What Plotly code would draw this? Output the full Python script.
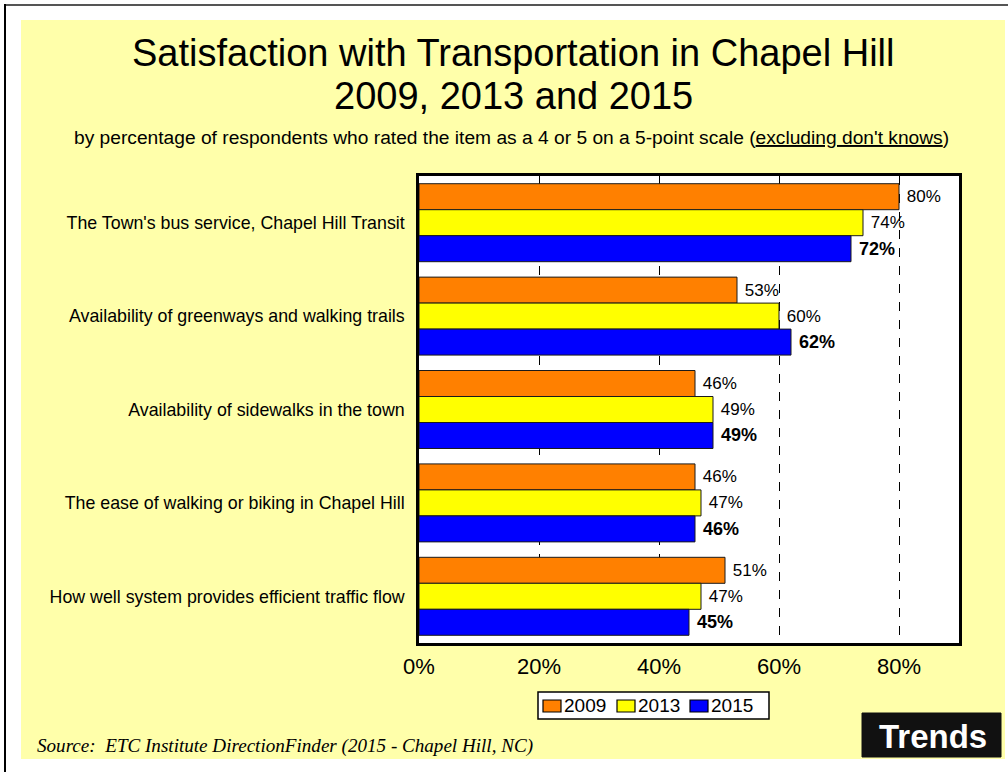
import plotly.graph_objects as go

# Survey items (top to bottom) and share of respondents rating 4 or 5
categories = [
    "The Town's bus service, Chapel Hill Transit",
    "Availability of greenways and walking trails",
    "Availability of sidewalks in the town",
    "The ease of walking or biking in Chapel Hill",
    "How well system provides efficient traffic flow",
]
years = ["2009", "2013", "2015"]
v2009 = [80, 53, 46, 46, 51]
v2013 = [74, 60, 49, 47, 47]
v2015 = [72, 62, 49, 46, 45]
x_ticks = [0, 20, 40, 60, 80]
x_tick_labels = ["0%", "20%", "40%", "60%", "80%"]

series = [v2009, v2013, v2015]
colors = ["#FF8000", "#FFFF00", "#0000FF"]
weights = ["normal", "normal", "bold"]
label_sizes = [17, 17, 18]

W, H = 1008, 772
L, R, T, B = 419, 959, 176, 643
FONT = "Liberation Sans, Arial, sans-serif"


def px(xp):
    return (xp - L) / (R - L)


def py(yp):
    return (B - yp) / (B - T)


fig = go.Figure()
for name, vals, col, wt, fs in zip(years, series, colors, weights, label_sizes):
    fig.add_trace(go.Bar(
        name=name,
        y=categories,
        x=vals,
        orientation="h",
        marker=dict(color=col, line=dict(color="#1a1a1a", width=1)),
        texttemplate="\u00a0%{x:.0f}%",
        textposition="outside",
        textangle=0,
        constraintext="none",
        cliponaxis=False,
        textfont=dict(family=FONT, size=fs, color="black", weight=wt),
        hoverinfo="skip",
        showlegend=False,
    ))

shapes = [
    # pale yellow panel
    dict(type="rect", xref="paper", yref="paper", layer="below",
         x0=px(21), x1=px(1005), y0=py(759), y1=py(20),
         fillcolor="#FFFFAA", line=dict(width=0)),
    # white plot area
    dict(type="rect", xref="paper", yref="paper", layer="below",
         x0=0, x1=1, y0=0, y1=1, fillcolor="white", line=dict(width=0)),
    # outer frame lines
    dict(type="line", xref="paper", yref="paper",
         x0=px(4), x1=px(1010), y0=py(5), y1=py(5),
         line=dict(color="#555555", width=2)),
    dict(type="line", xref="paper", yref="paper",
         x0=px(5), x1=px(5), y0=py(4), y1=py(775),
         line=dict(color="black", width=2)),
    # "Trends" badge
    dict(type="rect", xref="paper", yref="paper",
         x0=px(862), x1=px(1001), y0=py(757), y1=py(713),
         fillcolor="#111111", line=dict(color="#111111", width=1)),
    # legend frame
    dict(type="rect", xref="paper", yref="paper",
         x0=px(538), x1=px(769), y0=py(719), y1=py(692),
         fillcolor="white", line=dict(color="black", width=1.5)),
]

annotations = [
    dict(text="Satisfaction with Transportation in Chapel Hill",
         x=px(513), y=py(53), xref="paper", yref="paper",
         xanchor="center", yanchor="middle", showarrow=False,
         font=dict(family=FONT, size=38, color="black")),
    dict(text="2009, 2013 and 2015",
         x=px(513), y=py(96), xref="paper", yref="paper",
         xanchor="center", yanchor="middle", showarrow=False,
         font=dict(family=FONT, size=38, color="black")),
    dict(text="by percentage of respondents who rated the item as a 4 or 5 on a 5-point scale (<u>excluding don't knows</u>)",
         x=px(511), y=py(137), xref="paper", yref="paper",
         xanchor="center", yanchor="middle", showarrow=False,
         font=dict(family=FONT, size=19.2, color="black")),
    dict(text="<i>Source:  ETC Institute DirectionFinder (2015 - Chapel Hill, NC)</i>",
         x=px(35), y=py(746), xref="paper", yref="paper",
         xanchor="left", yanchor="middle", showarrow=False,
         font=dict(family="Liberation Serif, Times New Roman, serif", size=19.1, color="black")),
    dict(text="<b>Trends</b>",
         x=px(933), y=py(736), xref="paper", yref="paper",
         xanchor="center", yanchor="middle", showarrow=False,
         font=dict(family=FONT, size=33, color="white")),
]

# legend entries: swatch + year label
swatch_x = [543, 617, 690]
for yr, col, sx in zip(years, colors, swatch_x):
    shapes.append(dict(type="rect", xref="paper", yref="paper",
                       x0=px(sx), x1=px(sx + 18), y0=py(712), y1=py(700),
                       fillcolor=col, line=dict(color="black", width=1.2)))
    annotations.append(dict(text=yr, x=px(sx + 19), y=py(705.5),
                            xref="paper", yref="paper",
                            xanchor="left", yanchor="middle", showarrow=False,
                            font=dict(family=FONT, size=19, color="black")))

fig.update_layout(
    width=W, height=H, autosize=False,
    margin=dict(l=L, r=W - R, t=T, b=H - B, pad=0),
    paper_bgcolor="white",
    plot_bgcolor="white",
    barmode="group",
    bargap=0.165,
    bargroupgap=0,
    shapes=shapes,
    annotations=annotations,
    showlegend=False,
    font=dict(family=FONT, color="black"),
)

fig.update_xaxes(
    range=[0, 90],
    tickvals=x_ticks, ticktext=x_tick_labels,
    showgrid=True, gridcolor="black", gridwidth=1, griddash="dash",
    zeroline=False,
    showline=True, mirror=True, linecolor="black", linewidth=2.5,
    ticks="", ticklabelstandoff=2,
    tickfont=dict(family=FONT, size=22, color="black"),
)
fig.update_yaxes(
    type="category", autorange="reversed",
    showgrid=False, zeroline=False,
    showline=True, mirror=True, linecolor="black", linewidth=2.5,
    ticks="", ticklabelstandoff=8,
    tickfont=dict(family=FONT, size=17.8, color="black"),
)

fig.write_html("out.html")
